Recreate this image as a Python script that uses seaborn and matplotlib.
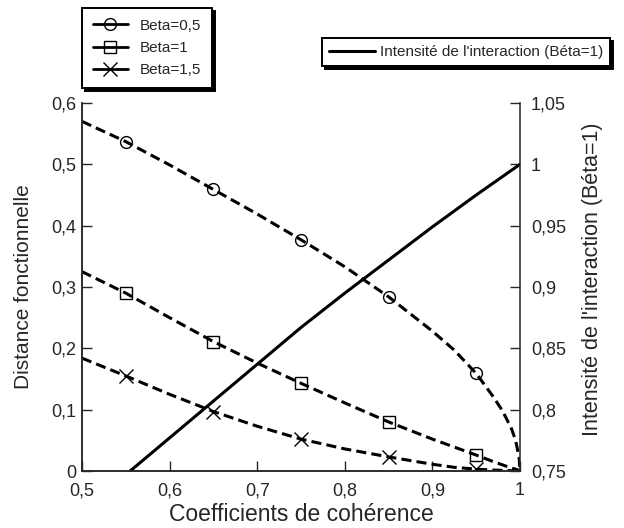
import numpy as np
import pandas as pd
import matplotlib
matplotlib.use("Agg")
import matplotlib.pyplot as plt
from matplotlib.lines import Line2D
from matplotlib.ticker import FuncFormatter, MultipleLocator
import seaborn as sns

# values
coef = [0.5, 0.55, 0.6, 0.65, 0.7, 0.75, 0.8, 0.85, 0.9, 0.925, 0.95,
        0.97, 0.98, 0.99, 0.995, 0.999, 1.0]
dist_b05 = [0.570, 0.537, 0.499, 0.459, 0.419, 0.377, 0.333, 0.284, 0.228, 0.197, 0.159,
            0.120, 0.098, 0.070, 0.050, 0.022, 0.0]
dist_b1 = [0.325, 0.290, 0.250, 0.211, 0.176, 0.143, 0.111, 0.080, 0.052, 0.039, 0.026,
           0.015, 0.010, 0.005, 0.003, 0.001, 0.0]
dist_b15 = [0.184, 0.155, 0.125, 0.097, 0.073, 0.052, 0.036, 0.023, 0.011, 0.006, 0.003,
            0.0015, 0.001, 0.0005, 0.0002, 0.0, 0.0]
marker_coef = [0.55, 0.65, 0.75, 0.85, 0.95]

int_coef = [0.555, 0.6, 0.65, 0.7, 0.75, 0.8, 0.85, 0.9, 0.95, 1.0]
intensity = [0.75, 0.777, 0.807, 0.837, 0.867, 0.895, 0.922, 0.949, 0.975, 1.0]

series = [("Beta=0,5", dist_b05, "o", 8.5), ("Beta=1", dist_b1, "s", 8.5), ("Beta=1,5", dist_b15, "x", 9.5)]

sns.set_style("ticks")
plt.rcParams["font.family"] = ["Liberation Sans", "DejaVu Sans"]

fig = plt.figure(figsize=(6.24, 5.28), dpi=100)
ax = fig.add_axes([82 / 624, 57 / 528, 438 / 624, 368 / 528])
ax2 = ax.twinx()

df = pd.DataFrame({"coef": coef, "b05": dist_b05, "b1": dist_b1, "b15": dist_b15})
mark_idx = [coef.index(c) for c in marker_coef]
cols = {"Beta=0,5": "b05", "Beta=1": "b1", "Beta=1,5": "b15"}

handles = []
for name, vals, mk, ms in series:
    sns.lineplot(data=df, x="coef", y=cols[name], ax=ax, color="black", lw=2.2,
                 linestyle=(0, (3.3, 1.7)), marker=mk, markevery=mark_idx, ms=ms,
                 mfc="none", mec="black", mew=1.0, sort=False)
    handles.append(Line2D([], [], color="black", lw=2.0, marker=mk, ms=ms,
                          mfc="none", mec="black", mew=1.0, label=name))

sns.lineplot(x=int_coef, y=intensity, ax=ax2, color="black", lw=2.2, sort=False)

ax.set_xlim(0.5, 1.0)
ax.set_ylim(0, 0.6)
ax2.set_ylim(0.75, 1.05)
ax.xaxis.set_major_locator(MultipleLocator(0.1))
ax.yaxis.set_major_locator(MultipleLocator(0.1))
ax2.yaxis.set_major_locator(MultipleLocator(0.05))

fmt = FuncFormatter(lambda v, p: ("%g" % round(v, 3)).replace(".", ","))
ax.xaxis.set_major_formatter(fmt)
ax.yaxis.set_major_formatter(fmt)
ax2.yaxis.set_major_formatter(fmt)

for a in (ax, ax2):
    a.spines["top"].set_visible(False)
    for s in a.spines.values():
        s.set_linewidth(1.1)
ax.spines["right"].set_visible(False)
ax.tick_params(axis="both", direction="in", length=7, width=1.0, labelsize=13, pad=4)
ax.tick_params(axis="x", pad=8)
ax2.tick_params(axis="y", direction="in", length=7, width=1.0, labelsize=13, pad=8)

ax.set_xlabel("Coefficients de cohérence", fontsize=16.5)
ax.set_ylabel("Distance fonctionnelle", fontsize=15)
ax2.set_ylabel("Intensité de l'interaction (Béta=1)", fontsize=15.5)
ax.xaxis.set_label_coords(0.5, -0.088)
ax.yaxis.set_label_coords(-0.112, 0.5)
ax2.yaxis.set_label_coords(1.142, 0.52)

shadow = {"facecolor": "black", "edgecolor": "black", "alpha": 1}
leg1 = fig.legend(handles=handles, loc="upper left", bbox_to_anchor=(82 / 624, 1 - 8 / 528),
                  fontsize=11, frameon=True, fancybox=False, shadow=shadow,
                  handlelength=2.3, handletextpad=0.8, labelspacing=0.55, borderpad=0.7,
                  borderaxespad=0)
leg1.get_frame().set_edgecolor("black")
leg1.get_frame().set_linewidth(1.4)

h2 = [Line2D([], [], color="black", lw=2.2, label="Intensité de l'interaction (Béta=1)")]
leg2 = fig.legend(handles=h2, loc="upper left", bbox_to_anchor=(322 / 624, 1 - 38 / 528),
                  fontsize=11, frameon=True, fancybox=False, shadow=shadow,
                  handlelength=3.0, handletextpad=0.35, borderpad=0.45, borderaxespad=0)
leg2.get_frame().set_edgecolor("black")
leg2.get_frame().set_linewidth(1.4)

fig.savefig("out.png", dpi=100)
